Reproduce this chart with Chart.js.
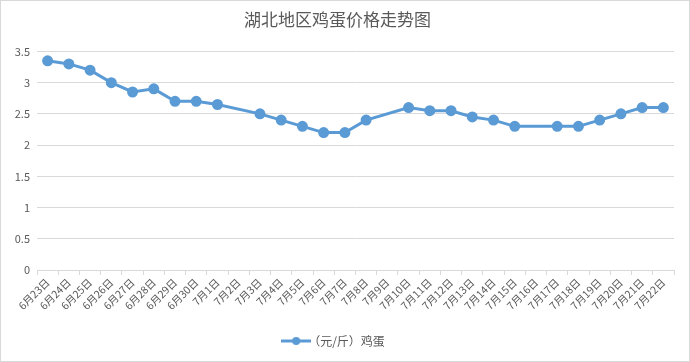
<!DOCTYPE html>
<html>
<head>
<meta charset="utf-8">
<script src="https://cdn.jsdelivr.net/npm/chart.js@4/dist/chart.umd.min.js"></script>
<style>
  html, body { margin: 0; padding: 0; background: #fff; }
  #wrap { width: 690px; height: 362px; box-sizing: border-box; border: 1px solid #d9d9d9; position: relative; }
</style>
</head>
<body>
<div id="wrap"><canvas id="eggChart"></canvas></div>
<script>
// dates on the x axis
const dates = ['6月23日','6月24日','6月25日','6月26日','6月27日','6月28日','6月29日','6月30日',
  '7月1日','7月2日','7月3日','7月4日','7月5日','7月6日','7月7日','7月8日','7月9日','7月10日',
  '7月11日','7月12日','7月13日','7月14日','7月15日','7月16日','7月17日','7月18日','7月19日',
  '7月20日','7月21日','7月22日'];

// egg price (yuan / jin), null = no quote that day
const eggPrice = [3.35, 3.3, 3.2, 3.0, 2.85, 2.9, 2.7, 2.7, 2.65, null, 2.5, 2.4, 2.3, 2.2, 2.2,
  2.4, null, 2.6, 2.55, 2.55, 2.45, 2.4, 2.3, null, 2.3, 2.3, 2.4, 2.5, 2.6, 2.6];

const yTicks = [0, 0.5, 1, 1.5, 2, 2.5, 3, 3.5];

const blue = '#5B9BD5';
const textGrey = '#595959';
const gridGrey = '#d9d9d9';
const font = '"Noto Sans CJK SC", "Microsoft YaHei", sans-serif';

// legend marker: line with a dot in the middle
const marker = document.createElement('canvas');
marker.width = 30; marker.height = 10;
const mctx = marker.getContext('2d');
mctx.strokeStyle = blue; mctx.lineWidth = 3;
mctx.beginPath(); mctx.moveTo(0, 5); mctx.lineTo(30, 5); mctx.stroke();
mctx.fillStyle = blue;
mctx.beginPath(); mctx.arc(15, 5, 4, 0, Math.PI * 2); mctx.fill();

const ctx = document.getElementById('eggChart').getContext('2d');
const eggChart = new Chart(ctx, {
    type: 'line',
    data: {
        labels: dates,
        datasets: [{
            label: '（元/斤）鸡蛋',
            data: eggPrice,
            borderColor: blue,
            backgroundColor: blue,
            borderWidth: 3,
            pointRadius: 4,
            pointHoverRadius: 4,
            pointBackgroundColor: blue,
            pointBorderColor: blue,
            spanGaps: true,
            tension: 0
        }]
    },
    options: {
        responsive: true,
        maintainAspectRatio: false,
        animation: false,
        layout: { padding: { left: 0, right: 15, top: 0, bottom: 4 } },
        plugins: {
            title: {
                display: true,
                text: '湖北地区鸡蛋价格走势图',
                color: textGrey,
                font: { family: font, size: 17, weight: 'normal' },
                padding: { top: 8, bottom: 22 }
            },
            legend: {
                position: 'bottom',
                labels: {
                    color: textGrey,
                    font: { family: font, size: 12 },
                    usePointStyle: true,
                    pointStyle: marker,
                    padding: 10
                }
            },
            tooltip: { enabled: false }
        },
        scales: {
            x: {
                offset: true,
                grid: {
                    offset: true,
                    drawOnChartArea: false,
                    drawTicks: true,
                    tickLength: 5,
                    color: gridGrey
                },
                border: { color: gridGrey },
                ticks: {
                    color: textGrey,
                    font: { family: font, size: 10.5 },
                    minRotation: 45,
                    maxRotation: 45,
                    autoSkip: false,
                    padding: 1
                },
                afterFit: function(scale) { scale.height = 55; }
            },
            y: {
                min: 0,
                max: 3.5,
                afterBuildTicks: function(scale) {
                    scale.ticks = yTicks.map(v => ({ value: v }));
                },
                grid: { color: gridGrey, drawTicks: false },
                border: { display: false },
                ticks: {
                    color: textGrey,
                    font: { family: font, size: 11 },
                    padding: 7,
                    callback: function(value) { return String(value); }
                },
                afterFit: function(scale) { scale.width = 36; }
            }
        }
    }
});
</script>
</body>
</html>
